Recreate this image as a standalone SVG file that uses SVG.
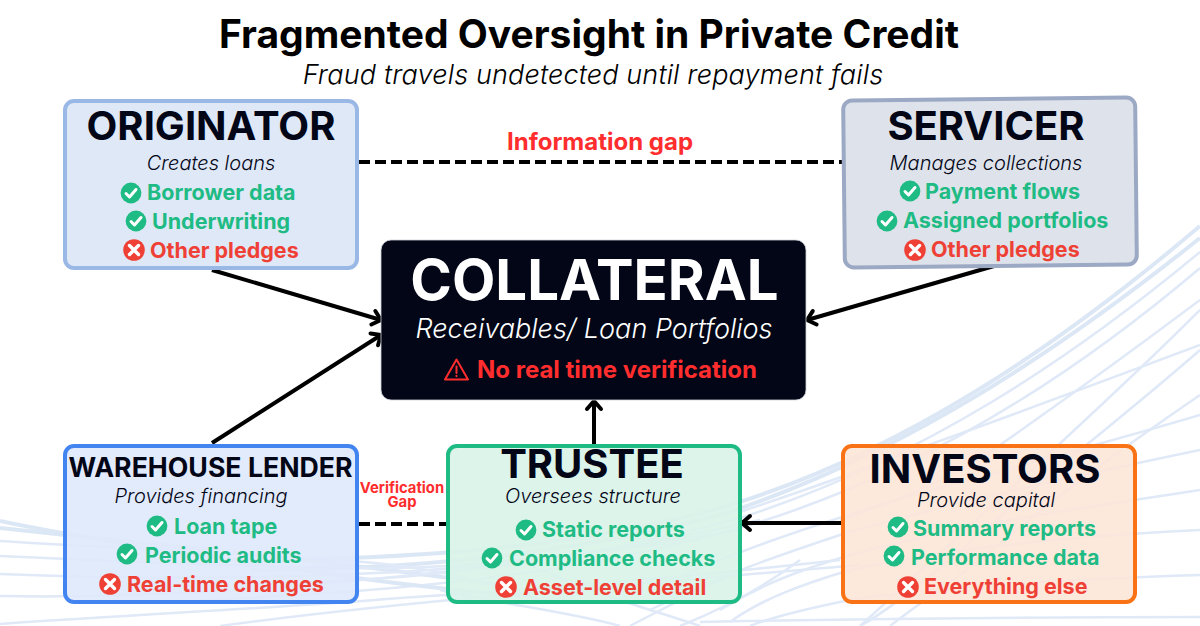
<svg xmlns="http://www.w3.org/2000/svg" width="1200" height="626" viewBox="0 0 1200 626">
<style>
text{font-family:Inter,"Noto Sans","Liberation Sans",sans-serif}
.ttl{font-weight:700;fill:#020617;text-anchor:middle;font-size:40px}
.sub{font-style:italic;font-weight:300;fill:#020617;text-anchor:middle;font-size:20px}
.ok{font-weight:700;fill:#1fbb85;font-size:21.5px}
.no{font-weight:700;fill:#ef4036;font-size:21.5px}
.box{stroke-width:4}
.wave{fill:none;stroke:#e0e9f7;stroke-width:2.5}
.wave2{fill:none;stroke:#dce7f6;stroke-width:4}
.conn{fill:none;stroke:#000;stroke-width:4}
.dash{stroke-dasharray:11 5}
.gap{font-weight:700;fill:#ff2d2d;text-anchor:middle}
</style>
<defs>
<marker id="arrow" markerUnits="userSpaceOnUse" markerWidth="20" markerHeight="20" refX="14" refY="10" orient="auto">
<path d="M6 3 L14 10 L6 17" fill="none" stroke="#000" stroke-width="4" stroke-linecap="round" stroke-linejoin="round"/>
</marker>
<g id="chk"><circle r="10.4" fill="#1fbb85"/><path d="M-5 0.5 L-1.5 4 L5 -3.5" fill="none" stroke="#fff" stroke-width="3" stroke-linecap="round" stroke-linejoin="round"/></g>
<g id="crs"><circle r="10.8" fill="#ef4036"/><path d="M-4.5 -4.5 L4.5 4.5 M4.5 -4.5 L-4.5 4.5" fill="none" stroke="#fff" stroke-width="3.4" stroke-linecap="round"/></g>
</defs>
<rect width="1200" height="626" fill="#fff"/>
<g id="background">
<path class="wave2" d="M1200 226C1060 345 900 455 720 508C560 552 380 560 230 560"/>
<path class="wave2" d="M1200 238C1060 350 910 450 730 512C570 556 400 570 250 570"/>
<path class="wave" d="M1200 252C1070 360 920 460 740 518C590 560 420 580 300 582"/>
<path class="wave" d="M1200 268C1080 370 930 470 750 525C610 566 450 590 200 600"/>
<path class="wave" d="M1200 300C1120 360 1050 410 1000 445C950 480 900 500 840 520"/>
<path class="wave" d="M1200 345C1120 375 1000 420 900 455C850 475 790 495 740 512"/>
<path class="wave" d="M1200 415C1100 445 1000 470 880 505C800 530 740 550 660 585"/>
<path class="wave" d="M1200 450C1080 475 940 505 840 535C780 555 720 575 650 610"/>
<path class="wave" d="M1200 490C1100 505 960 525 850 555C800 570 760 585 720 610"/>
<path class="wave" d="M1200 530C1100 535 960 545 850 570C800 585 760 600 730 622"/>
<path class="wave" d="M1200 575C1100 578 950 585 850 600C800 610 770 618 750 626"/>
<path class="wave" d="M1200 617C1100 617 900 618 700 622"/>
<path class="wave" d="M1200 310C1120 390 1010 490 860 626"/>
<path class="wave" d="M1200 350C1120 420 1040 480 950 560C900 600 880 615 860 626"/>
<path class="wave" d="M1200 395C1120 450 1050 500 980 560C940 590 910 610 890 626"/>
<path class="wave2" d="M0 521C90 540 200 555 300 570C380 582 450 590 520 596"/>
<path class="wave2" d="M0 528C90 538 200 548 300 560C380 568 450 578 500 585"/>
<path class="wave" d="M0 541C100 548 230 552 340 560C420 566 470 575 540 600"/>
<path class="wave" d="M0 556C120 562 240 566 360 568C450 570 560 556 700 540"/>
<path class="wave" d="M0 574C140 580 280 578 400 572C500 566 600 552 740 530"/>
<path class="wave" d="M0 596C120 598 240 592 360 580C470 570 600 556 760 520"/>
<path class="wave" d="M0 624C140 614 280 608 400 598C520 590 640 582 840 560"/>
<path class="wave" d="M220 626C320 612 420 602 560 590C700 578 800 570 860 565"/>
<path class="wave" d="M440 590C500 604 570 612 620 626"/>
<path class="wave" d="M520 560C580 590 640 606 700 626"/>
<path class="wave" d="M740 570C700 590 660 610 630 626"/>
<path class="wave" d="M800 560C760 590 720 610 680 626"/>
</g>
<g id="title">
<text x="589" y="48" text-anchor="middle" font-size="39" font-weight="700" fill="#000">Fragmented Oversight in Private Credit</text>
<text x="593" y="84" text-anchor="middle" font-size="27" font-style="italic" font-weight="300" fill="#000" letter-spacing=".15">Fraud travels undetected until repayment fails</text>
</g>
<g id="connectors">
<path class="conn dash" d="M359 162H842"/>
<path class="conn dash" d="M359 524H446"/>
<path class="conn" marker-end="url(#arrow)" d="M212 270L381 320"/>
<path class="conn" marker-end="url(#arrow)" d="M212 443L381 335"/>
<path class="conn" marker-end="url(#arrow)" d="M994 266L807 320"/>
<path class="conn" marker-end="url(#arrow)" d="M594 444V401"/>
<path class="conn" marker-end="url(#arrow)" d="M841 523H742"/>
</g>
<g id="gap-labels">
<text class="gap" x="600" y="150" font-size="24">Information gap</text>
<text class="gap" x="402" y="493" font-size="14.8">Verification</text>
<text class="gap" x="402" y="507" font-size="14.8">Gap</text>
</g>
<g id="originator">
<rect class="box" x="65" y="101" width="292" height="167" rx="9" fill="#dfe8f7" stroke="#9ab8e6"/>
<text class="ttl" x="211" y="140">ORIGINATOR</text>
<text class="sub" x="211" y="170">Creates loans</text>
<use href="#chk" x="131" y="193"/><text class="ok" x="147" y="200">Borrower data</text>
<use href="#chk" x="136" y="221"/><text class="ok" x="152" y="229">Underwriting</text>
<use href="#crs" x="134" y="250"/><text class="no" x="150" y="258">Other pledges</text>
</g>
<g id="servicer">
<rect class="box" x="844" y="99" width="292" height="167" rx="9" fill="#dee3eb" stroke="#9ca9c4" transform="rotate(-0.6 990 182)"/>
<text class="ttl" x="986" y="140">SERVICER</text>
<text class="sub" x="986" y="170">Manages collections</text>
<use href="#chk" x="910" y="191"/><text class="ok" x="925" y="199">Payment flows</text>
<use href="#chk" x="887" y="221"/><text class="ok" x="903" y="228">Assigned portfolios</text>
<use href="#crs" x="915" y="250"/><text class="no" x="931" y="257">Other pledges</text>
</g>
<g id="collateral">
<rect x="381" y="240" width="425" height="160" rx="10" fill="#020617" stroke="#cfd2d8" stroke-width=".8"/>
<text x="594.5" y="300" text-anchor="middle" font-size="56.3" font-weight="700" fill="#fff">COLLATERAL</text>
<text x="594" y="338" text-anchor="middle" font-size="27" font-style="italic" font-weight="300" fill="#fff">Receivables/ Loan Portfolios</text>
<path d="M456.5 359.5L468 379.5H445Z" fill="none" stroke="#ff2d2d" stroke-width="2" stroke-linejoin="round"/>
<path d="M456.5 366.5V373M456.5 375.8V376.2" fill="none" stroke="#ff2d2d" stroke-width="2" stroke-linecap="round"/>
<text x="477" y="378" font-size="24" font-weight="700" fill="#ff2d2d">No real time verification</text>
</g>
<g id="warehouse-lender">
<rect class="box" x="65" y="446" width="292" height="156" rx="9" fill="#dfe9fb" fill-opacity=".9" stroke="#4285f0"/>
<text class="ttl" x="210.5" y="477" style="font-size:26.7px">WAREHOUSE LENDER</text>
<text class="sub" x="201" y="503">Provides financing</text>
<use href="#chk" x="157" y="526"/><text class="ok" x="174" y="534">Loan tape</text>
<use href="#chk" x="127" y="554"/><text class="ok" x="145" y="563">Periodic audits</text>
<use href="#crs" x="110" y="584"/><text class="no" x="127" y="592">Real-time changes</text>
</g>
<g id="trustee">
<rect class="box" x="448" y="446" width="292" height="156" rx="9" fill="#d9f3e9" fill-opacity=".9" stroke="#1fbb85"/>
<text class="ttl" x="592" y="478">TRUSTEE</text>
<text class="sub" x="593" y="503">Oversees structure</text>
<use href="#chk" x="526" y="530"/><text class="ok" x="542" y="537">Static reports</text>
<use href="#chk" x="492" y="558"/><text class="ok" x="509" y="566">Compliance checks</text>
<use href="#crs" x="506" y="587"/><text class="no" x="523" y="595">Asset-level detail</text>
</g>
<g id="investors">
<rect class="box" x="843" y="446" width="292" height="156" rx="9" fill="#fde6d8" fill-opacity=".9" stroke="#f97316"/>
<text class="ttl" x="985" y="483">INVESTORS</text>
<text class="sub" x="986" y="507">Provide capital</text>
<use href="#chk" x="898" y="527"/><text class="ok" x="913" y="536">Summary reports</text>
<use href="#chk" x="894" y="556"/><text class="ok" x="911" y="565">Performance data</text>
<use href="#crs" x="908" y="587"/><text class="no" x="924" y="594">Everything else</text>
</g>
</svg>
